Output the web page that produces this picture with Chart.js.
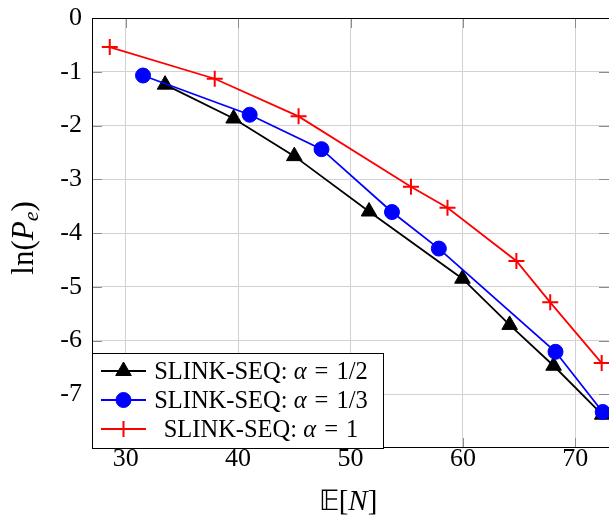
<!DOCTYPE html>
<html>
<head>
<meta charset="utf-8">
<script src="https://cdn.jsdelivr.net/npm/chart.js@4/dist/chart.umd.min.js"></script>
<style>
  html, body { margin: 0; padding: 0; background: #fff; }
  canvas { display: block; }
</style>
</head>
<body>
<canvas id="chart" width="609" height="522"></canvas>
<script>
// tick values
const xTicks = [30, 40, 50, 60, 70];
const yTicks = [0, -1, -2, -3, -4, -5, -6, -7];

// series
const seriesNames = ['SLINK-SEQ: α = 1/2', 'SLINK-SEQ: α = 1/3', 'SLINK-SEQ: α = 1'];
const halfX = [33.5, 39.6, 45.0, 51.65, 59.96, 64.16, 68.07, 72.4];
const halfY = [-1.24, -1.87, -2.57, -3.60, -4.85, -5.71, -6.47, -7.38];
const thirdX = [31.54, 41.03, 47.42, 53.69, 57.86, 68.24, 72.44];
const thirdY = [-1.07, -1.80, -2.44, -3.61, -4.29, -6.21, -7.33];
const oneX = [28.58, 37.92, 45.38, 55.38, 58.63, 64.76, 67.77, 72.35];
const oneY = [-0.54, -1.13, -1.83, -3.14, -3.53, -4.52, -5.29, -6.42];

const SERIF = '"Liberation Serif", "Times New Roman", serif';

function points(xs, ys) {
  return xs.map((x, i) => ({ x, y: ys[i] }));
}

// draws a run of text pieces with their own fonts, centred on x
function drawRich(ctx, parts, x, y) {
  let total = 0;
  parts.forEach(p => {
    ctx.font = p.font;
    total += ctx.measureText(p.t).width + 2 * (p.pad || 0);
  });
  let cx = x - total / 2;
  ctx.textBaseline = 'alphabetic';
  ctx.textAlign = 'left';
  parts.forEach(p => {
    ctx.font = p.font;
    cx += p.pad || 0;
    ctx.fillText(p.t, cx, y + (p.dy || 0));
    cx += ctx.measureText(p.t).width + (p.pad || 0);
  });
}

// "SLINK-SEQ: α = 1/2" -> text, italic alpha, spaced equals sign, value
function labelParts(text, size) {
  const i = text.indexOf('α');
  const j = text.indexOf('=');
  return [
    { t: text.slice(0, i), font: `${size}px ${SERIF}` },
    { t: 'α', font: `italic ${size}px ${SERIF}` },
    { t: '=', font: `${size}px ${SERIF}`, pad: size * 0.33 },
    { t: text.slice(j + 1).trim(), font: `${size}px ${SERIF}` }
  ];
}

const frame = {
  id: 'frame',
  beforeDatasetsDraw(chart) {
    const { ctx, chartArea: a, scales: { x, y } } = chart;
    ctx.save();
    ctx.strokeStyle = '#8c8c8c';
    ctx.lineWidth = 1;
    ctx.beginPath();
    xTicks.forEach(v => {
      const px = Math.round(x.getPixelForValue(v)) + 0.5;
      ctx.moveTo(px, a.top); ctx.lineTo(px, a.top + 10);
      ctx.moveTo(px, a.bottom); ctx.lineTo(px, a.bottom - 10);
    });
    yTicks.forEach(v => {
      const py = Math.round(y.getPixelForValue(v)) + 0.5;
      ctx.moveTo(a.left, py); ctx.lineTo(a.left + 10, py);
      ctx.moveTo(a.right, py); ctx.lineTo(a.right - 10, py);
    });
    ctx.stroke();
    ctx.strokeStyle = '#000';
    ctx.strokeRect(a.left + 0.5, a.top + 0.5, a.width, a.height - 1);
    ctx.restore();
  },
  afterDraw(chart) {
    const { ctx, data } = chart;
    ctx.save();
    ctx.fillStyle = '#000';

    // axis titles
    drawRich(ctx, [
      { t: '𝔼', font: `28px ${SERIF}` },
      { t: '[', font: `29px ${SERIF}` },
      { t: 'N', font: `italic 29px ${SERIF}` },
      { t: ']', font: `29px ${SERIF}` }
    ], 348, 510);

    ctx.save();
    ctx.translate(33, 238);
    ctx.rotate(-Math.PI / 2);
    drawRich(ctx, [
      { t: 'ln(', font: `31px ${SERIF}` },
      { t: 'P', font: `italic 31px ${SERIF}` },
      { t: 'e', font: `italic 22px ${SERIF}`, dy: 5 },
      { t: ')', font: `31px ${SERIF}` }
    ], 0, 0);
    ctx.restore();

    // legend box
    const box = { left: 92.5, top: 353.5, right: 383.5, bottom: 448.5 };
    ctx.fillStyle = '#fff';
    ctx.fillRect(box.left, box.top, box.right - box.left, box.bottom - box.top);
    ctx.strokeStyle = '#000';
    ctx.lineWidth = 1;
    ctx.strokeRect(box.left, box.top, box.right - box.left, box.bottom - box.top);

    const rows = [371, 400, 429];
    data.datasets.forEach((ds, i) => {
      const ry = rows[i];
      ctx.strokeStyle = ds.borderColor;
      ctx.fillStyle = ds.pointBackgroundColor;
      ctx.lineWidth = ds.borderWidth;
      ctx.beginPath();
      ctx.moveTo(101, ry);
      ctx.lineTo(146, ry);
      ctx.stroke();
      ctx.lineWidth = ds.pointBorderWidth;
      Chart.helpers.drawPoint(ctx, {
        pointStyle: ds.pointStyle,
        radius: ds.pointRadius,
        rotation: 0,
        borderWidth: ds.pointBorderWidth
      }, 123.5, ry);
      ctx.fillStyle = '#000';
      drawRich(ctx, labelParts(ds.label, 24.5), 261, ry + 8);
    });
    ctx.restore();
  }
};

new Chart(document.getElementById('chart'), {
  type: 'line',
  data: {
    datasets: [
      {
        label: seriesNames[0],
        data: points(halfX, halfY),
        borderColor: '#000',
        backgroundColor: '#000',
        pointBackgroundColor: '#000',
        pointBorderColor: '#000',
        borderWidth: 1.8,
        pointBorderWidth: 1,
        pointStyle: 'triangle',
        pointRadius: 9,
        order: 3
      },
      {
        label: seriesNames[1],
        data: points(thirdX, thirdY),
        borderColor: '#0000ff',
        backgroundColor: '#0000ff',
        pointBackgroundColor: '#0000ff',
        pointBorderColor: '#0000ff',
        borderWidth: 1.8,
        pointBorderWidth: 1,
        pointStyle: 'circle',
        pointRadius: 7.5,
        order: 2
      },
      {
        label: seriesNames[2],
        data: points(oneX, oneY),
        borderColor: '#ff0000',
        backgroundColor: '#ff0000',
        pointBackgroundColor: '#ff0000',
        pointBorderColor: '#ff0000',
        borderWidth: 1.8,
        pointBorderWidth: 2,
        pointStyle: 'cross',
        pointRadius: 8,
        order: 1
      }
    ]
  },
  options: {
    responsive: false,
    devicePixelRatio: 1,
    animation: false,
    clip: false,
    layout: { autoPadding: false, padding: { top: 18, right: 0, left: 0, bottom: 0 } },
    plugins: { legend: { display: false }, tooltip: { enabled: false } },
    scales: {
      x: {
        type: 'linear',
        min: 27,
        max: 73,
        afterBuildTicks: s => { s.ticks = xTicks.map(v => ({ value: v })); },
        afterFit: s => { s.height = 74; s.paddingLeft = 0; s.paddingRight = 0; },
        grid: { color: '#d2d2d2', drawTicks: false },
        border: { display: false },
        ticks: { color: '#000', padding: -4, font: { family: SERIF, size: 26 } }
      },
      y: {
        min: -8,
        max: 0,
        afterBuildTicks: s => { s.ticks = yTicks.map(v => ({ value: v })); },
        afterFit: s => { s.width = 92; s.paddingTop = 0; s.paddingBottom = 0; },
        grid: { color: '#d2d2d2', drawTicks: false },
        border: { display: false },
        ticks: { color: '#000', padding: 10, font: { family: SERIF, size: 26 } }
      }
    }
  },
  plugins: [frame]
});
</script>
</body>
</html>
